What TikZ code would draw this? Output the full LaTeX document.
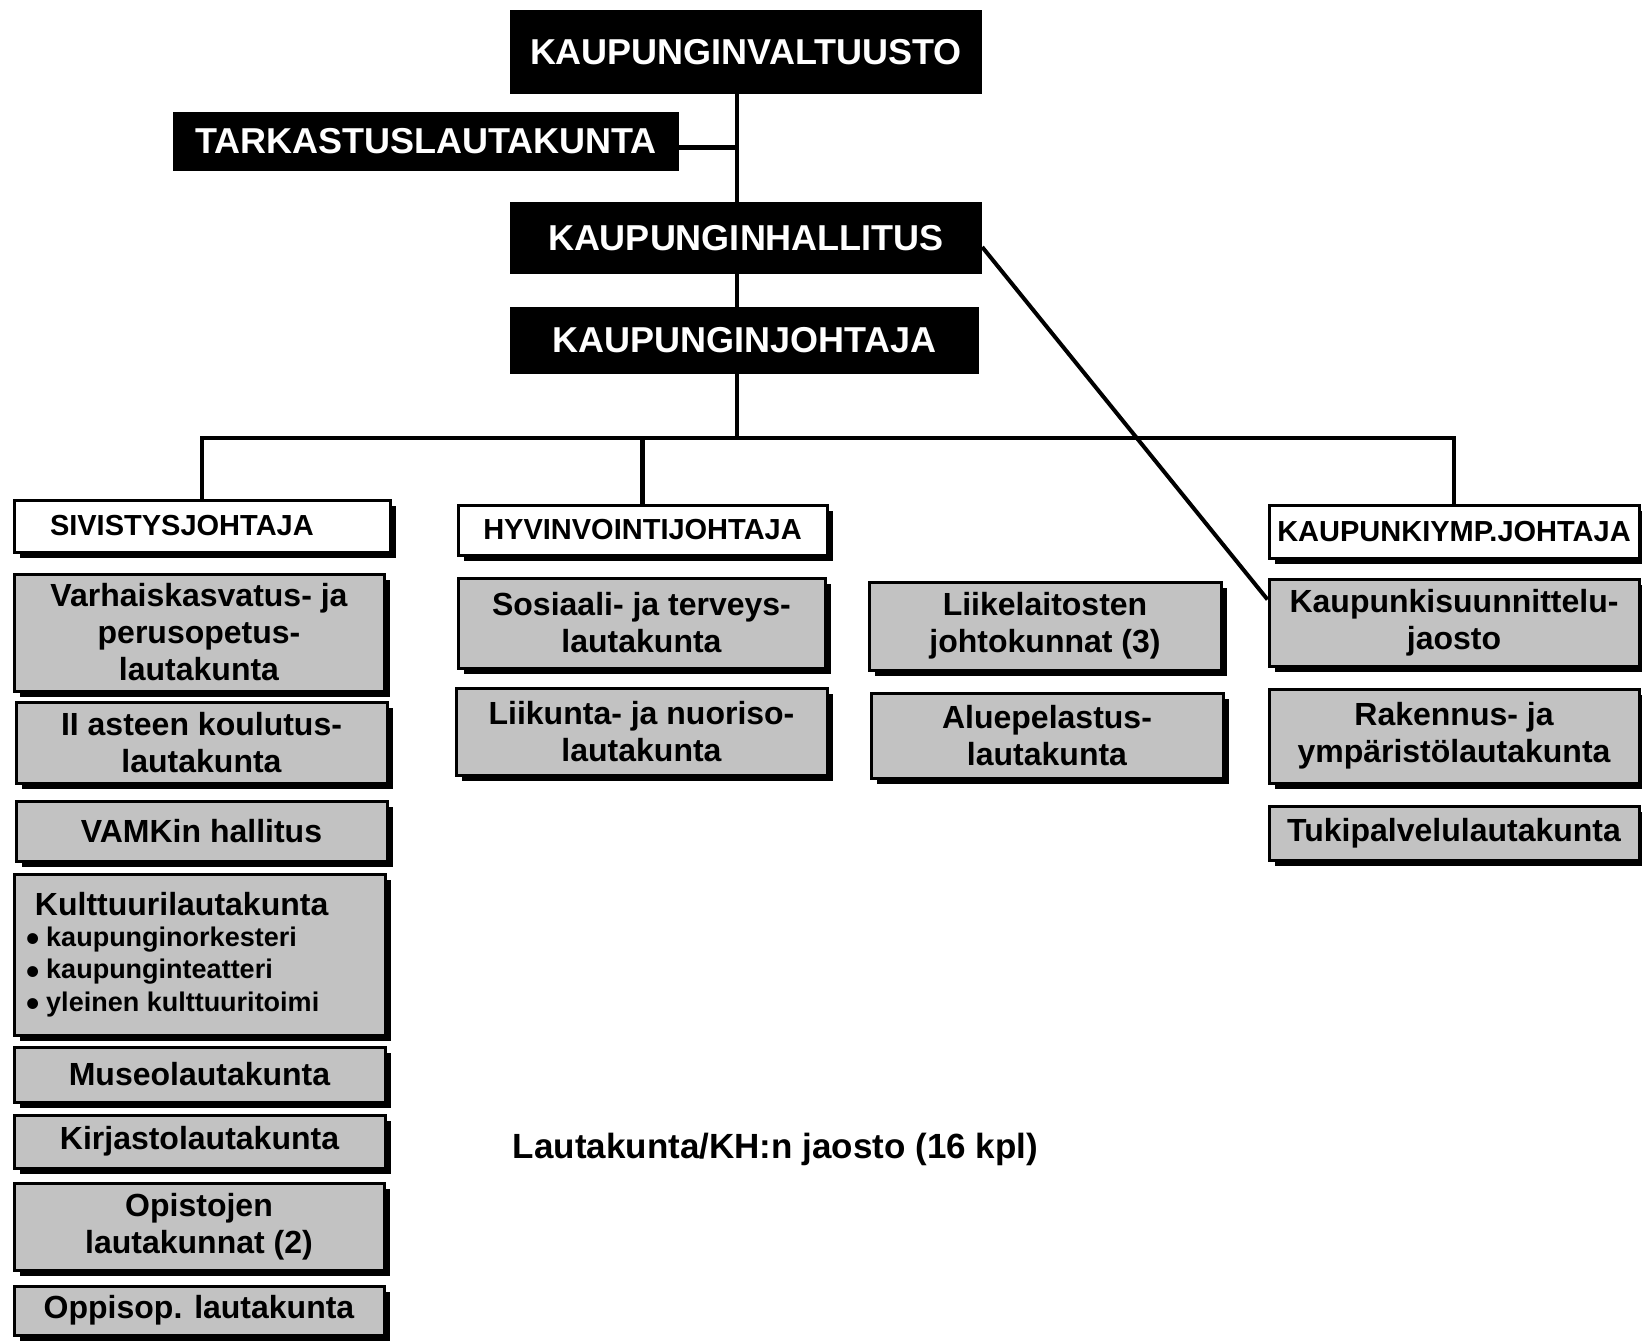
\documentclass[tikz,border=0pt]{standalone}
\usepackage{fontspec}
\setmainfont{Liberation Sans}
\usetikzlibrary{shadows,calc}
\newcommand{\bigbul}{\smash{\raisebox{-5.5pt}{\scalebox{1.4}{\textbullet}}}\hspace{6pt}}
\begin{document}
\begin{tikzpicture}[x=1pt,y=-1pt,
  blackbox/.style={fill=black, text=white, inner sep=0pt, font=\fontsize{36}{40}\selectfont\bfseries},
  shadowed/.style={drop shadow={shadow xshift=6pt, shadow yshift=-6pt, fill=black, opacity=1}},
  whitebox/.style={draw, line width=3pt, fill=white, inner sep=0pt, shadowed, font=\fontsize{29}{34}\selectfont\bfseries},
  greybox/.style={draw, line width=3pt, fill=black!24, inner sep=0pt, shadowed, align=center, font=\fontsize{32}{37}\selectfont\bfseries},
  conn/.style={line width=4.5pt}
]
\useasboundingbox (0,0) rectangle (1642,1341);
\fill[white] (0,0) rectangle (1642,1341);

% top black boxes
\node[blackbox, minimum width=472pt, minimum height=84pt] (kv) at (746,52) {KAUPUNGINVALTUUSTO};
\node[blackbox, minimum width=506pt, minimum height=59pt] (tl) at (426,141.5) {TARKASTUSLAUTAKUNTA};
\node[blackbox, minimum width=472pt, minimum height=72pt] (kh) at (746,238) {KAUPUNGINHALLITUS};
\node[blackbox, minimum width=469pt, minimum height=67pt] (kj) at (744.5,340.5) {KAUPUNGINJOHTAJA};

% director boxes
\node[whitebox, minimum width=376pt, minimum height=52pt] (sj) at (202,526) {\makebox[370pt][l]{\hspace{33pt}SIVISTYSJOHTAJA}};
\node[whitebox, minimum width=369pt, minimum height=50pt] (hj) at (642.5,530) {HYVINVOINTIJOHTAJA};
\node[whitebox, minimum width=370pt, minimum height=53pt] (ky) at (1454,531.5) {KAUPUNKIYMP.JOHTAJA};

% left column
\node[greybox, minimum width=370pt, minimum height=117pt] (va) at (199,632.5) {Varhaiskasvatus- ja\\perusopetus-\\lautakunta};
\node[greybox, minimum width=371pt, minimum height=81pt] (ii) at (201.5,742.5) {II asteen koulutus-\\lautakunta};
\node[greybox, minimum width=371pt, minimum height=60pt] (vm) at (201.5,831) {VAMKin hallitus};
\node[greybox, minimum width=371pt, minimum height=161pt, align=left] (ku) at (199.5,954.5)
  {\parbox{345pt}{\fontsize{32}{36}\selectfont\hspace*{8pt}Kulttuurilautakunta\\[-2pt]
   \fontsize{27}{32.5}\selectfont\bigbul kaupunginorkesteri\\
   \bigbul kaupunginteatteri\\
   \bigbul yleinen kulttuuritoimi}};
\node[greybox, minimum width=371pt, minimum height=55pt] (mu) at (199.5,1074.5) {Museolautakunta};
\node[greybox, minimum width=371pt, minimum height=53pt] (ki) at (199.5,1141.5) {Kirjastolautakunta};
\node[greybox, minimum width=370pt, minimum height=87pt] (op) at (199,1226.5) {Opistojen\\lautakunnat (2)};
\node[greybox, minimum width=370pt, minimum height=49pt] (os) at (199,1310.5) {Oppisop. lautakunta};

% middle column
\node[greybox, minimum width=367pt, minimum height=90pt] (so) at (641.5,623) {Sosiaali- ja terveys-\\lautakunta};
\node[greybox, minimum width=371pt, minimum height=87pt] (li) at (641.5,731.5) {Liikunta- ja nuoriso-\\lautakunta};

% right-middle column
\node[greybox, minimum width=352pt, minimum height=88pt] (ll) at (1045,626) {Liikelaitosten\\johtokunnat (3)};
\node[greybox, minimum width=352pt, minimum height=85pt] (al) at (1047,735.5) {Aluepelastus-\\lautakunta};

% right column
\node[greybox, minimum width=370pt, minimum height=87pt] (ks) at (1454,622.5) {Kaupunkisuunnittelu-\\jaosto};
\node[greybox, minimum width=370pt, minimum height=94pt] (ra) at (1454,736) {Rakennus- ja\\ympäristölautakunta};
\node[greybox, minimum width=370pt, minimum height=54pt] (tu) at (1454,833) {Tukipalvelulautakunta};

% caption
\node[font=\fontsize{35}{40}\selectfont\bfseries, inner sep=0pt] (cap) at (775.5,1149) {Lautakunta/KH:n jaosto (16 kpl)};

% connectors
\coordinate (bar) at (737,438);
\draw[conn] ([xshift=-9pt]kv.south) -- ([xshift=-9pt]kh.north);
\draw[conn] ([yshift=-6pt]tl.east) -- ([yshift=-6pt]tl.east -| bar);
\draw[conn] ([xshift=-9pt]kh.south) -- ([xshift=-7.5pt]kj.north);
\draw[conn] ([xshift=-7.5pt]kj.south) -- (bar);
\draw[conn] (sj.north) -- (sj.north |- bar) -- (ky.north |- bar) -- (ky.north);
\draw[conn] (hj.north) -- (hj.north |- bar);
\draw[conn, line width=4pt] ([yshift=-9pt]kh.east) -- ([yshift=23pt]ks.west);
\end{tikzpicture}
\end{document}
